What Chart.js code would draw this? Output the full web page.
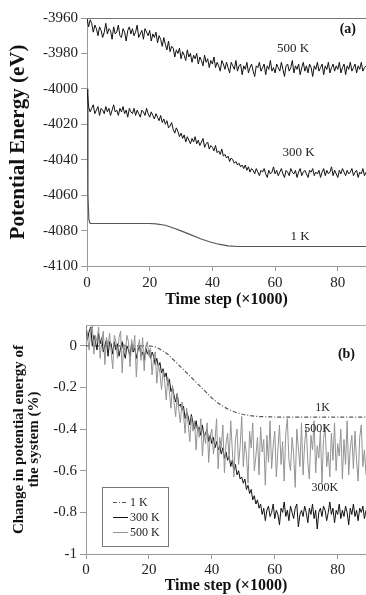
<!DOCTYPE html>
<html><head><meta charset="utf-8">
<script src="https://cdn.jsdelivr.net/npm/chart.js@4/dist/chart.umd.min.js"></script>
<style>
html,body{margin:0;padding:0;background:#fff;}
#wrap{position:relative;width:366px;height:595px;overflow:hidden;background:#fff;}
#ca{position:absolute;left:0;top:0;}
#cb{position:absolute;left:0;top:310px;}
</style></head><body>
<div id="wrap"><canvas id="ca" width="366" height="310"></canvas><canvas id="cb" width="366" height="285"></canvas></div>
<script>
// ---------- data ----------
const t0 = 0, dt = 0.5;               // sampling of the noisy traces (x1000 steps)
const xTicks = [0, 20, 40, 60, 80];
const yTicksA = [-4100, -4080, -4060, -4040, -4020, -4000, -3980, -3960];
const yTicksB = [-1, -0.8, -0.6, -0.4, -0.2, 0];

// (a) potential energy (eV)
const energy500K = [
-3960,-3965,-3961,-3963,-3968,-3964,-3966,-3970,-3965,-3967,
-3971,-3968,-3963,-3969,-3966,-3967,-3972,-3965,-3969,-3968,
-3964,-3970,-3971,-3966,-3968,-3973,-3967,-3965,-3969,-3966,
-3970,-3968,-3964,-3971,-3969,-3967,-3972,-3966,-3968,-3970,
-3967,-3973,-3969,-3971,-3968,-3974,-3970,-3972,-3976,-3971,
-3975,-3978,-3973,-3979,-3976,-3977,-3982,-3978,-3980,-3977,
-3983,-3979,-3981,-3984,-3978,-3982,-3980,-3985,-3981,-3983,
-3980,-3986,-3982,-3984,-3987,-3981,-3985,-3983,-3988,-3984,
-3986,-3982,-3988,-3985,-3987,-3990,-3984,-3986,-3989,-3985,
-3988,-3991,-3985,-3987,-3989,-3984,-3990,-3987,-3986,-3992,
-3987,-3989,-3985,-3991,-3988,-3986,-3990,-3993,-3987,-3988,
-3985,-3990,-3988,-3986,-3992,-3987,-3989,-3984,-3990,-3988,
-3991,-3986,-3988,-3990,-3985,-3989,-3993,-3987,-3986,-3990,
-3988,-3984,-3991,-3987,-3989,-3986,-3992,-3988,-3985,-3990,
-3987,-3991,-3986,-3988,-3993,-3987,-3989,-3985,-3990,-3988,
-3986,-3992,-3987,-3989,-3985,-3991,-3988,-3986,-3990,-3987,
-3989,-3985,-3991,-3988,-3986,-3992,-3987,-3989,-3985,-3990,
-3988,-3986,-3991,-3987,-3989,-3985,-3990,-3988,-3987];
const energy300K = [
-4000,-4010,-4013,-4011,-4009,-4014,-4012,-4010,-4015,-4011,
-4012,-4014,-4010,-4013,-4011,-4015,-4012,-4009,-4013,-4012,
-4015,-4011,-4013,-4010,-4014,-4012,-4016,-4011,-4013,-4014,
-4011,-4015,-4012,-4014,-4016,-4012,-4013,-4015,-4011,-4014,
-4016,-4013,-4015,-4017,-4014,-4016,-4018,-4015,-4019,-4017,
-4020,-4018,-4022,-4021,-4019,-4023,-4025,-4022,-4024,-4027,
-4025,-4028,-4026,-4030,-4027,-4029,-4031,-4028,-4030,-4027,
-4031,-4029,-4032,-4030,-4028,-4033,-4031,-4030,-4034,-4032,
-4033,-4035,-4032,-4036,-4035,-4037,-4034,-4038,-4037,-4039,
-4038,-4041,-4039,-4040,-4042,-4041,-4043,-4042,-4044,-4043,
-4045,-4043,-4046,-4044,-4047,-4045,-4046,-4048,-4045,-4047,
-4049,-4046,-4047,-4045,-4048,-4050,-4046,-4048,-4047,-4044,
-4048,-4046,-4049,-4047,-4045,-4048,-4050,-4046,-4047,-4049,
-4045,-4047,-4048,-4046,-4050,-4047,-4045,-4049,-4047,-4046,
-4048,-4050,-4046,-4047,-4045,-4049,-4047,-4048,-4046,-4050,
-4047,-4045,-4049,-4046,-4048,-4047,-4044,-4049,-4046,-4048,
-4050,-4046,-4048,-4045,-4047,-4049,-4046,-4048,-4047,-4045,
-4049,-4047,-4046,-4050,-4047,-4048,-4045,-4049,-4047];
const energy1KTime = [0, 0.3, 0.6, 1, 5, 10, 15, 20, 22, 25, 28, 30, 33, 36, 39, 42, 45, 48, 55, 60, 70, 80, 89];
const energy1K = [-4000, -4060, -4074, -4076, -4076, -4076, -4076, -4076, -4076.2, -4077, -4078.8, -4080.2, -4082.3, -4084.5, -4086.3, -4087.7, -4088.6, -4089, -4089, -4089, -4089, -4089, -4089];

// (b) change in potential energy (%)
const change300K = [
0.1,0.03,0.07,0.09,0.0,0.05,0.02,-0.02,0.06,0.01,
0.04,-0.03,0.0,0.03,-0.05,0.02,0.01,-0.04,0.02,-0.02,
0.01,-0.05,-0.01,0.02,-0.03,-0.06,0.0,-0.02,-0.05,0.01,
-0.03,-0.01,-0.06,-0.02,0.0,-0.05,-0.03,-0.07,-0.01,-0.04,
-0.02,-0.06,-0.03,-0.05,-0.09,-0.06,-0.1,-0.08,-0.13,-0.11,
-0.15,-0.13,-0.19,-0.16,-0.22,-0.2,-0.24,-0.27,-0.23,-0.29,
-0.28,-0.31,-0.29,-0.35,-0.32,-0.34,-0.38,-0.33,-0.37,-0.4,
-0.36,-0.41,-0.39,-0.43,-0.38,-0.44,-0.42,-0.4,-0.46,-0.43,
-0.47,-0.44,-0.49,-0.46,-0.5,-0.48,-0.52,-0.49,-0.54,-0.51,
-0.55,-0.53,-0.58,-0.55,-0.6,-0.57,-0.62,-0.6,-0.64,-0.63,
-0.66,-0.64,-0.69,-0.67,-0.71,-0.69,-0.74,-0.72,-0.76,-0.74,
-0.78,-0.76,-0.81,-0.78,-0.84,-0.79,-0.77,-0.82,-0.8,-0.76,
-0.83,-0.79,-0.81,-0.86,-0.78,-0.8,-0.75,-0.82,-0.79,-0.84,
-0.77,-0.8,-0.83,-0.78,-0.76,-0.87,-0.81,-0.79,-0.82,-0.77,
-0.8,-0.85,-0.78,-0.81,-0.76,-0.83,-0.79,-0.88,-0.8,-0.78,
-0.82,-0.77,-0.79,-0.84,-0.8,-0.75,-0.81,-0.78,-0.85,-0.79,
-0.81,-0.76,-0.83,-0.79,-0.82,-0.77,-0.8,-0.86,-0.78,-0.81,
-0.76,-0.82,-0.79,-0.84,-0.78,-0.8,-0.77,-0.83,-0.79];
const change500K = [
0.1,0.04,-0.02,0.08,0.1,-0.04,0.05,0.02,0.09,-0.06,
0.03,0.07,-0.09,0.04,0.0,0.06,-0.03,-0.11,0.05,0.02,
-0.06,0.04,0.07,-0.13,0.01,-0.04,0.05,0.02,-0.1,0.03,
-0.02,0.05,-0.15,-0.01,0.03,-0.07,0.04,-0.12,0.0,0.02,
-0.05,-0.01,-0.14,-0.06,-0.03,-0.18,-0.09,-0.13,-0.21,-0.12,
-0.17,-0.26,-0.15,-0.22,-0.3,-0.19,-0.27,-0.34,-0.23,-0.31,
-0.37,-0.27,-0.33,-0.42,-0.3,-0.38,-0.46,-0.34,-0.41,-0.36,
-0.5,-0.38,-0.44,-0.35,-0.53,-0.42,-0.47,-0.37,-0.56,-0.43,
-0.4,-0.52,-0.46,-0.35,-0.59,-0.44,-0.49,-0.38,-0.61,-0.47,
-0.42,-0.55,-0.36,-0.5,-0.63,-0.45,-0.4,-0.57,-0.48,-0.34,
-0.58,-0.46,-0.52,-0.66,-0.41,-0.49,-0.37,-0.6,-0.53,-0.44,
-0.62,-0.39,-0.51,-0.45,-0.67,-0.43,-0.56,-0.36,-0.59,-0.48,
-0.41,-0.63,-0.5,-0.38,-0.57,-0.46,-0.65,-0.42,-0.35,-0.55,
-0.6,-0.44,-0.52,-0.68,-0.4,-0.49,-0.58,-0.37,-0.62,-0.47,
-0.39,-0.56,-0.64,-0.43,-0.5,-0.36,-0.61,-0.48,-0.54,-0.41,
-0.66,-0.45,-0.38,-0.58,-0.51,-0.63,-0.42,-0.55,-0.37,-0.6,
-0.47,-0.53,-0.4,-0.64,-0.45,-0.57,-0.36,-0.62,-0.49,-0.43,
-0.59,-0.41,-0.55,-0.65,-0.44,-0.38,-0.58,-0.5,-0.62];
const change1KTime = [0, 5, 10, 15, 20, 22, 24, 26, 28, 30, 32, 34, 36, 38, 40, 42, 44, 46, 48, 50, 52, 55, 60, 70, 80, 89];
const change1K = [0, 0, 0, 0, 0, -0.005, -0.02, -0.04, -0.07, -0.1, -0.13, -0.16, -0.19, -0.22, -0.25, -0.275, -0.295, -0.31, -0.322, -0.33, -0.335, -0.34, -0.342, -0.343, -0.343, -0.343];

// ---------- helpers ----------
const SERIF = '"Liberation Serif", "Times New Roman", serif';
const sampled = arr => arr.map((v, i) => ({x: t0 + i * dt, y: v}));
const paired = (ts, vs) => ts.map((t, i) => ({x: t, y: vs[i]}));
const AX = '#9a9a9a';

const decor = {
  id: 'decor',
  afterDraw(chart, args, o) {
    const {ctx, chartArea: a, scales: {x, y}} = chart;
    ctx.save();
    ctx.strokeStyle = o.topColor; ctx.lineWidth = 1;
    ctx.beginPath(); ctx.moveTo(a.left, a.top + 0.5); ctx.lineTo(a.right, a.top + 0.5); ctx.stroke();
    ctx.fillStyle = '#111'; ctx.textBaseline = 'middle';
    ctx.font = 'bold 14px ' + SERIF; ctx.textAlign = 'right';
    ctx.fillText(o.tag, a.right - o.tagDx, a.top + o.tagDy);
    ctx.textAlign = 'center';
    (o.texts || []).forEach(t => {
      ctx.font = t.size + 'px ' + SERIF; ctx.fillStyle = '#222';
      ctx.fillText(t.text, x.getPixelForValue(t.x), y.getPixelForValue(t.y));
    });
    if (o.legend) {
      const L = o.legend;
      ctx.fillStyle = '#fff'; ctx.strokeStyle = '#777'; ctx.lineWidth = 1;
      ctx.fillRect(L.x, L.y, L.w, L.h); ctx.strokeRect(L.x + 0.5, L.y + 0.5, L.w, L.h);
      L.order.forEach((di, k) => {
        const ds = chart.data.datasets[di];
        const yy = L.y + L.first + k * L.gap;
        ctx.strokeStyle = ds.borderColor; ctx.lineWidth = ds.borderWidth;
        ctx.setLineDash(ds.borderDash || []);
        ctx.beginPath(); ctx.moveTo(L.x + 11, yy + 0.5); ctx.lineTo(L.x + 26, yy + 0.5); ctx.stroke();
        ctx.setLineDash([]);
        ctx.fillStyle = '#222'; ctx.font = '12px ' + SERIF; ctx.textAlign = 'left';
        ctx.fillText(ds.label, L.x + 28, yy + 1);
      });
    }
    ctx.restore();
  }
};

function axes(yMin, yMax, yTicks, yTitle, yFontSize, yTitlePad, yWidth, xHeight, xTickPad, xTitlePadB) {
  return {
    x: {
      type: 'linear', min: 0, max: 89, position: 'bottom',
      afterBuildTicks: s => { s.ticks = xTicks.map(v => ({value: v})); },
      afterFit: s => { s.height = xHeight; },
      grid: {drawOnChartArea: false, drawTicks: true, tickLength: 5, tickColor: AX},
      border: {color: AX, width: 1},
      ticks: {font: {family: SERIF, size: 15}, color: '#222', padding: xTickPad, maxRotation: 0, autoSkip: false},
      title: {display: true, text: 'Time step (\u00d71000)', color: '#111',
        font: {family: SERIF, size: 16, weight: 'bold', lineHeight: 1.2}, padding: {top: 0, bottom: xTitlePadB}}
    },
    y: {
      type: 'linear', min: yMin, max: yMax,
      afterBuildTicks: s => { s.ticks = yTicks.map(v => ({value: v})); },
      afterFit: s => { s.width = yWidth; },
      grid: {drawOnChartArea: false, drawTicks: true, tickLength: 6, tickColor: AX},
      border: {color: AX, width: 1},
      ticks: {font: {family: SERIF, size: 15}, color: '#222', padding: 3, autoSkip: false,
        callback: v => String(v)},
      title: {display: true, text: yTitle, color: '#111',
        font: {family: SERIF, size: yFontSize, weight: 'bold', lineHeight: yFontSize === 21 ? 1.2 : 1.0},
        padding: {top: yTitlePad, bottom: 0}}
    }
  };
}

const common = {
  responsive: false, animation: false, devicePixelRatio: 1,
  elements: {point: {radius: 0}, line: {tension: 0, borderJoinStyle: 'miter'}},
  plugins: {legend: {display: false}, tooltip: {enabled: false}}
};

new Chart(document.getElementById('ca'), {
  type: 'line',
  data: {datasets: [
    {label: '500 K', data: sampled(energy500K), borderColor: '#111', borderWidth: 1},
    {label: '300 K', data: sampled(energy300K), borderColor: '#111', borderWidth: 1},
    {label: '1 K', data: paired(energy1KTime, energy1K), borderColor: '#555', borderWidth: 1.2}
  ]},
  options: Object.assign({}, common, {
    layout: {padding: {top: 18, left: 0, right: 0, bottom: 0}},
    scales: axes(-4100, -3960, yTicksA, 'Potential Energy (eV)', 21, 6, 87, 44, 3, 1),
    plugins: Object.assign({}, common.plugins, {decor: {
      topColor: '#777', tag: '(a)', tagDx: 10, tagDy: 11,
      texts: [
        {text: '500 K', x: 65.7, y: -3977, size: 13},
        {text: '300 K', x: 67.5, y: -4036, size: 13},
        {text: '1 K', x: 68, y: -4083.4, size: 13}
      ]
    }})
  }),
  plugins: [decor]
});

new Chart(document.getElementById('cb'), {
  type: 'line',
  data: {datasets: [
    {label: '500 K', data: sampled(change500K), borderColor: '#939393', borderWidth: 1},
    {label: '300 K', data: sampled(change300K), borderColor: '#111', borderWidth: 1},
    {label: '1 K', data: paired(change1KTime, change1K), borderColor: '#555', borderWidth: 1.2, borderDash: [4, 2, 1, 2]}
  ]},
  options: Object.assign({}, common, {
    layout: {padding: {top: 15, left: 0, right: 0, bottom: 0}},
    scales: axes(-1, 0.1, yTicksB, ['Change in potential energy of', 'the system (%)'], 15, 12, 86, 41, 2, 0),
    plugins: Object.assign({}, common.plugins, {decor: {
      topColor: '#aaa', tag: '(b)', tagDx: 11, tagDy: 29,
      texts: [
        {text: '1K', x: 75.2, y: -0.3, size: 12},
        {text: '500K', x: 73.6, y: -0.4, size: 12},
        {text: '300K', x: 75.9, y: -0.68, size: 12}
      ],
      legend: {x: 102, y: 177, w: 66, h: 59, first: 15, gap: 15, order: [2, 1, 0]}
    }})
  }),
  plugins: [decor]
});
</script>
</body></html>
